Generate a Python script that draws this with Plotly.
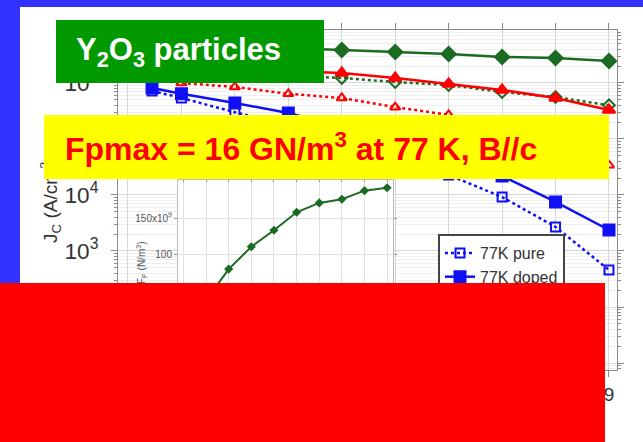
import plotly.graph_objects as go

# ---------------- data ----------------
field_T = [0.45, 1, 2, 3, 4, 5, 6, 7, 8, 9]

jc_green_doped = [5.18e6, 4.97e6, 4.58e6, 4.22e6, 3.88e6, 3.58e6, 3.30e6, 2.91e6, 2.79e6, 2.47e6]
jc_green_pure = [1.64e6, 1.57e6, 1.45e6, 1.33e6, 1.23e6, 1.04e6, 9.2e5, 6.9e5, 5.6e5, 4.0e5]
jc_red_doped = [2.01e6, 1.93e6, 1.78e6, 1.64e6, 1.51e6, 1.23e6, 9.6e5, 7.5e5, 5.4e5, 3.3e5]
jc_red_pure = [1.13e6, 1.0e6, 8.5e5, 6.4e5, 5.4e5, 3.7e5, 2.7e5, 1.45e5, 7.8e4, 3.4e4]
jc_77k_doped = [8.1e5, 6.4e5, 4.4e5, 2.9e5, 1.64e5, 8.5e4, 4.2e4, 2.18e4, 7.5e3, 2.37e3]
jc_77k_pure = [7.2e5, 5.4e5, 3.0e5, 1.78e5, 9.6e4, 4.8e4, 2.28e4, 9.2e3, 2.69e3, 458]

inset_B = [1, 2, 3, 4, 5, 6, 7, 8, 9]
inset_fp = [36, 79, 110, 133, 158, 171, 176, 188, 192]

x_ticks = [0, 1, 2, 3, 4, 5, 6, 7, 8, 9]
inset_yticks = [0, 50, 100, 150]
inset_yticktext = ["0", "50", "100", "150x10<sup>9</sup>"]

title_green = "Y<sub>2</sub>O<sub>3</sub> particles"
title_yellow = "Fpmax = 16 GN/m<sup>3</sup> at 77 K, B//c"
y_title = "J<sub>C</sub> (A/cm<sup>2</sup>)"
inset_y_title = "F<sub>P</sub> (N/m<sup>3</sup>)"

# ---------------- geometry helpers ----------------
W, H = 643, 442
ML, MR, MT, MB = 118, 26, 30, 72
PW, PH = W - ML - MR, H - MT - MB


def px_x(p):
    return (p - ML) / PW


def px_y(p):
    return (H - MB - p) / PH


GREEN = "#1b6b22"
RED = "#ff0000"
BLUE = "#1010f5"
FONT = "Liberation Sans, Arial, sans-serif"

fig = go.Figure()


def add_series(y, color, dash, symbol, name, show):
    filled = dash == "solid"
    fig.add_trace(go.Scatter(
        x=field_T, y=y, name=name, mode="lines+markers", showlegend=show,
        line=dict(color=color, width=2.5, dash=dash),
        marker=dict(symbol=symbol if filled else symbol + "-open",
                    size=11 if filled else 9, color=color,
                    line=dict(color=color, width=2)),
    ))


add_series(jc_green_pure, GREEN, "dot", "diamond", "green pure", False)
add_series(jc_green_doped, GREEN, "solid", "diamond", "green doped", False)
add_series(jc_red_pure, RED, "dot", "triangle-up", "red pure", False)
add_series(jc_red_doped, RED, "solid", "triangle-up", "red doped", False)
add_series(jc_77k_pure, BLUE, "dot", "square", "77K pure", True)
add_series(jc_77k_doped, BLUE, "solid", "square", "77K doped", True)

# inset
fig.add_trace(go.Scatter(
    x=inset_B, y=inset_fp, xaxis="x2", yaxis="y2", mode="lines+markers",
    showlegend=False, line=dict(color=GREEN, width=2),
    marker=dict(symbol="diamond", size=7, color=GREEN),
))

axis_common = dict(showline=True, linecolor="#8a8a8a", linewidth=1, mirror="ticks",
                   ticks="outside", tickcolor="#8a8a8a", zeroline=False)

fig.update_layout(
    width=W, height=H, autosize=False,
    margin=dict(l=ML, r=MR, t=MT, b=MB, pad=0),
    paper_bgcolor="#3333ff", plot_bgcolor="white",
    font=dict(family=FONT, color="#333333"),
    xaxis=dict(range=[-0.187, 9.15], tickvals=x_ticks, ticklen=6,
               tickfont=dict(size=19, color="#333"), ticklabelstandoff=1,
               showgrid=True, gridcolor="#d6d6d6", **axis_common),
    yaxis=dict(type="log", range=[0.875, 6.946], dtick=1, exponentformat="power",
               ticklen=6, tickfont=dict(size=18, color="#333"), ticklabelstandoff=9,
               showgrid=True, gridcolor="#d6d6d6",
               minor=dict(ticks="outside", ticklen=3, tickcolor="#8a8a8a",
                          showgrid=True, gridcolor="#eeeeee"),
               **axis_common),
    xaxis2=dict(domain=[px_x(178), px_x(393)], anchor="y2", range=[-0.24, 9.26],
                dtick=1, showticklabels=False, showgrid=True, gridcolor="#e0e0e0",
                showline=True, linecolor="#bbbbbb", mirror="ticks", ticks="inside",
                ticklen=2, tickcolor="#999", zeroline=False),
    yaxis2=dict(domain=[px_y(345), px_y(180)], anchor="x2", range=[-26.4, 202.8],
                tickvals=inset_yticks, ticktext=inset_yticktext,
                tickfont=dict(size=10, color="#555"), showgrid=True, gridcolor="#e0e0e0",
                showline=True, linecolor="#bbbbbb", mirror="ticks", ticks="outside",
                ticklen=3, tickcolor="#999", zeroline=False),
    legend=dict(x=px_x(438), y=px_y(234), xanchor="left", yanchor="top",
                bgcolor="white", bordercolor="#444444", borderwidth=2,
                font=dict(size=16, color="#333333", family=FONT), tracegroupgap=0),
    shapes=[dict(type="rect", xref="paper", yref="paper", layer="below",
                 x0=px_x(20), x1=px_x(W + 5), y0=px_y(H + 5), y1=px_y(7),
                 fillcolor="white", line=dict(width=0))],
)


def box(x0, y0, w, h, color):
    return dict(xref="paper", yref="paper", x=px_x(x0), y=px_y(y0), xanchor="left",
                yanchor="top", width=w, height=h, bgcolor=color, borderwidth=0,
                borderpad=0, showarrow=False, text=" ")


annotations = [
    dict(xref="paper", yref="paper", x=px_x(50), y=px_y(199), xanchor="center",
         yanchor="middle", textangle=-90, showarrow=False, text=y_title,
         font=dict(size=19, color="#333", family=FONT)),
    dict(xref="paper", yref="paper", x=px_x(141), y=px_y(263), xanchor="center",
         yanchor="middle", textangle=-90, showarrow=False, text=inset_y_title,
         font=dict(size=10, color="#555", family=FONT)),
    box(56, 20, 268, 63, "#009900"),
    dict(xref="paper", yref="paper", x=px_x(74), y=px_y(52), xanchor="left",
         yanchor="middle", showarrow=False, text="<b>" + title_green + "</b>",
         font=dict(size=31, color="white", family=FONT)),
    box(44, 115, 565, 64, "#ffff00"),
    dict(xref="paper", yref="paper", x=px_x(63), y=px_y(147), xanchor="left",
         yanchor="middle", showarrow=False, text="<b>" + title_yellow + "</b>",
         font=dict(size=32, color="#ff0000", family=FONT)),
    box(0, 283, 605, 165, "#ff0000"),
]
fig.update_layout(annotations=annotations)

fig.write_html(
    "out.html",
    config={"displayModeBar": False},
    post_script="document.body.style.margin='0';document.body.style.overflow='hidden';",
)
